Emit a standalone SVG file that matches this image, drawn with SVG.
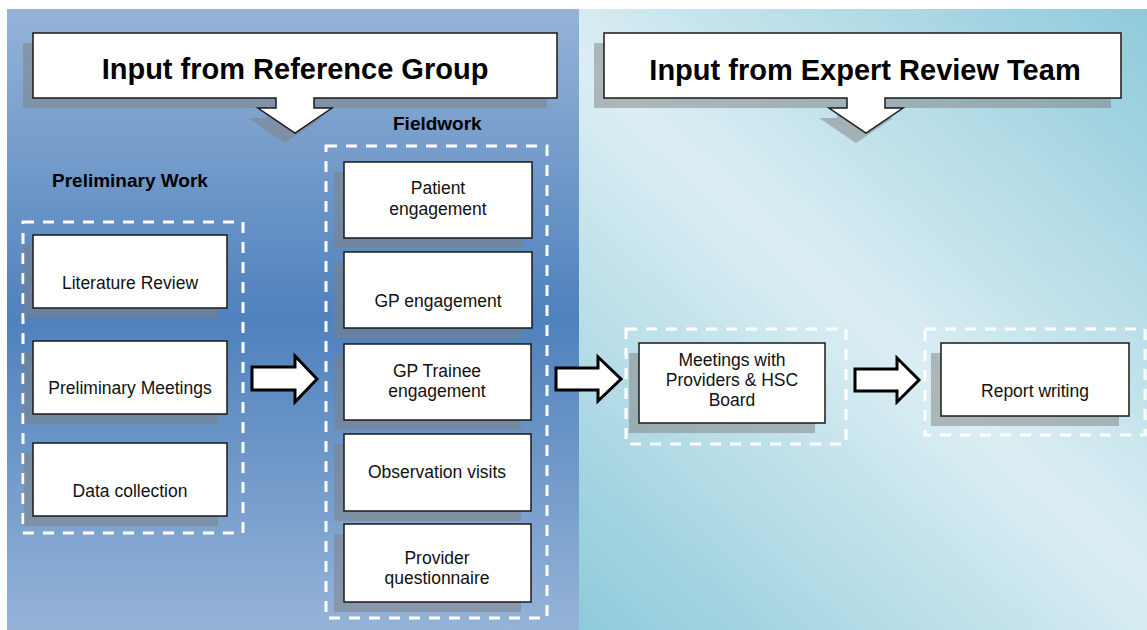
<svg xmlns="http://www.w3.org/2000/svg" width="1147" height="630" viewBox="0 0 1147 630">
  <defs>
    <linearGradient id="gLeft" x1="0" y1="0" x2="0" y2="1">
      <stop offset="0" stop-color="#95b3d7"/>
      <stop offset="0.5" stop-color="#4f81bd"/>
      <stop offset="1" stop-color="#95b3d7"/>
    </linearGradient>
    <linearGradient id="gRight" gradientUnits="userSpaceOnUse" x1="579" y1="630" x2="1147" y2="9">
      <stop offset="0" stop-color="#8ecada"/>
      <stop offset="0.5" stop-color="#dbeef3"/>
      <stop offset="1" stop-color="#8ecada"/>
    </linearGradient>
    <style>
      .shadow { fill: #808080; fill-opacity: 0.5; }
      .box { fill: #ffffff; stroke: #1a1a1a; stroke-width: 1.5; }
      .dash { fill: none; stroke: #ffffff; stroke-width: 3; stroke-dasharray: 11 9; }
      .title { font-family: "Liberation Sans", Arial, sans-serif; font-size: 29px; font-weight: bold; fill: #000; text-anchor: middle; }
      .head { font-family: "Liberation Sans", Arial, sans-serif; font-size: 19px; font-weight: bold; fill: #000; }
      .lbl { font-family: "Liberation Sans", Arial, sans-serif; font-size: 17.5px; fill: #111; text-anchor: middle; }
      .arrow { fill: #ffffff; stroke: #000000; stroke-width: 3; stroke-linejoin: miter; }
    </style>
  </defs>

  <rect x="0" y="0" width="1147" height="630" fill="#ffffff"/>
  <rect x="7" y="9" width="572" height="621" fill="url(#gLeft)"/>
  <rect x="579" y="9" width="568" height="621" fill="url(#gRight)"/>

  <g id="title-reference-group">
    <path class="shadow" d="M23,43 H547 V108 H304 V118 H322 L285,143 L248,118 H266 V108 H23 Z"/>
    <path class="box" d="M33,33 H557 V98 H314 V108 H332 L295,133 L258,108 H276 V98 H33 Z"/>
    <text class="title" x="295" y="79">Input from Reference Group</text>
  </g>

  <g id="title-expert-review-team">
    <path class="shadow" d="M594,43 H1111 V108 H875 V118 H893 L856,143 L819,118 H837 V108 H594 Z"/>
    <path class="box" d="M604,33 H1121 V98 H885 V108 H903 L866,133 L829,108 H847 V98 H604 Z"/>
    <text class="title" x="865" y="80">Input from Expert Review Team</text>
  </g>

  <g id="preliminary-work">
    <text class="head" x="52" y="187">Preliminary Work</text>
    <rect class="dash" x="23" y="222" width="220" height="311"/>
  </g>
  <g id="literature-review">
    <rect class="shadow" x="24" y="245" width="194" height="73"/>
    <rect class="box" x="33" y="235" width="194" height="73"/>
    <text class="lbl" x="130" y="289">Literature Review</text>
  </g>
  <g id="preliminary-meetings">
    <rect class="shadow" x="24" y="351" width="194" height="73"/>
    <rect class="box" x="33" y="341" width="194" height="73"/>
    <text class="lbl" x="130" y="394">Preliminary Meetings</text>
  </g>
  <g id="data-collection">
    <rect class="shadow" x="24" y="453" width="194" height="73"/>
    <rect class="box" x="33" y="443" width="194" height="73"/>
    <text class="lbl" x="130" y="497">Data collection</text>
  </g>

  <g id="fieldwork">
    <text class="head" x="393" y="130">Fieldwork</text>
    <rect class="dash" x="326" y="146" width="221" height="472"/>
  </g>
  <g id="patient-engagement">
    <rect class="shadow" x="334" y="172" width="188" height="76"/>
    <rect class="box" x="344" y="162" width="188" height="76"/>
    <text class="lbl" x="438" y="194">Patient</text>
    <text class="lbl" x="438" y="215">engagement</text>
  </g>
  <g id="gp-engagement">
    <rect class="shadow" x="334" y="262" width="188" height="76"/>
    <rect class="box" x="344" y="252" width="188" height="76"/>
    <text class="lbl" x="438" y="307">GP engagement</text>
  </g>
  <g id="gp-trainee-engagement">
    <rect class="shadow" x="334" y="354" width="187" height="76"/>
    <rect class="box" x="344" y="344" width="187" height="76"/>
    <text class="lbl" x="437" y="377">GP Trainee</text>
    <text class="lbl" x="437" y="397">engagement</text>
  </g>
  <g id="observation-visits">
    <rect class="shadow" x="334" y="444" width="187" height="77"/>
    <rect class="box" x="344" y="434" width="187" height="77"/>
    <text class="lbl" x="437" y="478">Observation visits</text>
  </g>
  <g id="provider-questionnaire">
    <rect class="shadow" x="334" y="534" width="187" height="78"/>
    <rect class="box" x="344" y="524" width="187" height="78"/>
    <text class="lbl" x="437" y="564">Provider</text>
    <text class="lbl" x="437" y="584">questionnaire</text>
  </g>

  <g id="meetings-providers-hsc-board">
    <rect class="dash" x="626" y="329" width="220" height="115"/>
    <rect class="shadow" x="629" y="353" width="186" height="80"/>
    <rect class="box" x="639" y="343" width="186" height="80"/>
    <text class="lbl" x="732" y="366">Meetings with</text>
    <text class="lbl" x="732" y="386">Providers &amp; HSC</text>
    <text class="lbl" x="732" y="406">Board</text>
  </g>

  <g id="report-writing">
    <rect class="dash" x="925" y="329" width="220" height="106"/>
    <rect class="shadow" x="931" y="353" width="188" height="73"/>
    <rect class="box" x="941" y="343" width="188" height="73"/>
    <text class="lbl" x="1035" y="397">Report writing</text>
  </g>

  <g id="connectors">
    <path class="arrow" d="M252,367 H295 V356 L317,379 L295,402 V390 H252 Z"/>
    <path class="arrow" d="M556,368 H598 V357 L621,379 L598,401 V390 H556 Z"/>
    <path class="arrow" d="M855,369 H897 V358 L919,380 L897,402 V391 H855 Z"/>
  </g>
</svg>
